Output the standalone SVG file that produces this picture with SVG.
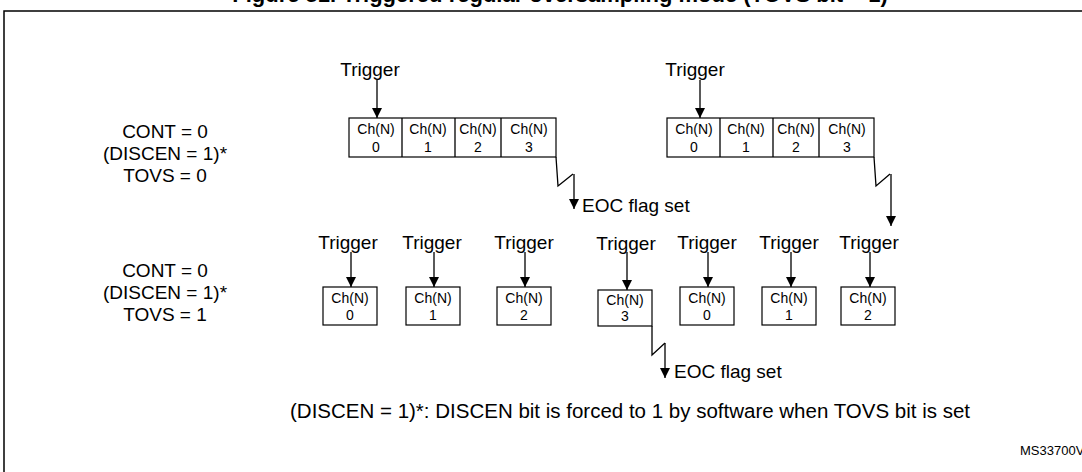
<svg xmlns="http://www.w3.org/2000/svg" width="1082" height="472" viewBox="0 0 1082 472">
<defs><marker id="ah" viewBox="0 0 10 10" refX="10" refY="5" markerWidth="10" markerHeight="10" markerUnits="userSpaceOnUse" orient="auto"><path d="M0,0L10,5L0,10z" fill="#000"/></marker></defs>
<style>
text{font-family:"Liberation Sans",Arial,sans-serif;fill:#000}
.l{font-size:19px;text-anchor:middle}
.c{font-size:14px;text-anchor:middle}
.b{fill:#fff;stroke:#000;stroke-width:1.2}
.a{stroke:#000;stroke-width:1.3;fill:none}
.ar{stroke:#000;stroke-width:1.3;fill:none;marker-end:url(#ah)}
</style>
<rect width="1082" height="472" fill="#fff"/>
<text x="560" y="2" style="font-size:22px;font-weight:bold;text-anchor:middle">Figure 51. Triggered regular oversampling mode (TOVS bit = 1)</text>
<rect x="4" y="11" width="1090" height="480" fill="none" stroke="#000" stroke-width="1.5"/>
<g id="labels">
<text class="l" x="165" y="138">CONT = 0</text>
<text class="l" x="165" y="160">(DISCEN = 1)*</text>
<text class="l" x="165" y="182">TOVS = 0</text>
<text class="l" x="165" y="277">CONT = 0</text>
<text class="l" x="165" y="299">(DISCEN = 1)*</text>
<text class="l" x="165" y="321">TOVS = 1</text>
<text class="l" x="630" y="418" style="font-size:20.5px">(DISCEN = 1)*: DISCEN bit is forced to 1 by software when TOVS bit is set</text>
<text x="1020" y="455" style="font-size:13px">MS33700V1</text>
</g>
<g id="seq1">
<rect class="b" x="349" y="118" width="207" height="39"/>
<path class="a" d="M402,118V157M455,118V157M501,118V157"/>
<text class="c" x="376" y="134">Ch(N)</text><text class="c" x="376" y="152">0</text>
<text class="c" x="428" y="134">Ch(N)</text><text class="c" x="428" y="152">1</text>
<text class="c" x="478" y="134">Ch(N)</text><text class="c" x="478" y="152">2</text>
<text class="c" x="529" y="134">Ch(N)</text><text class="c" x="529" y="152">3</text>
<text class="l" x="370" y="76">Trigger</text>
</g>
<g id="seq2">
<rect class="b" x="667" y="118" width="207" height="39"/>
<path class="a" d="M720,118V157M773,118V157M819,118V157"/>
<text class="c" x="694" y="134">Ch(N)</text><text class="c" x="694" y="152">0</text>
<text class="c" x="746" y="134">Ch(N)</text><text class="c" x="746" y="152">1</text>
<text class="c" x="796" y="134">Ch(N)</text><text class="c" x="796" y="152">2</text>
<text class="c" x="847" y="134">Ch(N)</text><text class="c" x="847" y="152">3</text>
<text class="l" x="695" y="76">Trigger</text>
</g>
<g id="row2">
<rect class="b" x="323" y="287" width="54" height="38"/><text class="c" x="350" y="303">Ch(N)</text><text class="c" x="350" y="320">0</text>
<rect class="b" x="406" y="287" width="54" height="38"/><text class="c" x="433" y="303">Ch(N)</text><text class="c" x="433" y="320">1</text>
<rect class="b" x="497" y="287" width="54" height="38"/><text class="c" x="524" y="303">Ch(N)</text><text class="c" x="524" y="320">2</text>
<rect class="b" x="598" y="290" width="54" height="36"/><text class="c" x="625" y="305">Ch(N)</text><text class="c" x="625" y="321">3</text>
<rect class="b" x="680" y="287" width="54" height="38"/><text class="c" x="707" y="303">Ch(N)</text><text class="c" x="707" y="320">0</text>
<rect class="b" x="762" y="287" width="54" height="38"/><text class="c" x="789" y="303">Ch(N)</text><text class="c" x="789" y="320">1</text>
<rect class="b" x="841" y="287" width="54" height="38"/><text class="c" x="868" y="303">Ch(N)</text><text class="c" x="868" y="320">2</text>
<text class="l" x="348" y="249">Trigger</text>
<text class="l" x="432" y="249">Trigger</text>
<text class="l" x="524" y="249">Trigger</text>
<text class="l" x="626" y="250">Trigger</text>
<text class="l" x="707" y="249">Trigger</text>
<text class="l" x="789" y="249">Trigger</text>
<text class="l" x="869" y="249">Trigger</text>
<text class="l" x="582" y="212" style="text-anchor:start">EOC flag set</text>
<text class="l" x="674" y="378" style="text-anchor:start">EOC flag set</text>
</g>
<g id="connectors">
<path class="ar" d="M377,80V118"/>
<path class="ar" d="M700,80V118"/>
<path class="a" d="M556,157L558,186L573,174"/><path class="ar" d="M574,174V209"/>
<path class="a" d="M874,157L876,186L890,174"/><path class="ar" d="M891,174V226"/>
<path class="ar" d="M351,252V287"/>
<path class="ar" d="M434,252V287"/>
<path class="ar" d="M525,252V287"/>
<path class="ar" d="M627,252V290"/>
<path class="ar" d="M708,252V287"/>
<path class="ar" d="M791,252V287"/>
<path class="ar" d="M870,252V287"/>
<path class="a" d="M652,326L652,355L665,343"/><path class="ar" d="M665,343V378"/>
</g>
</svg>
